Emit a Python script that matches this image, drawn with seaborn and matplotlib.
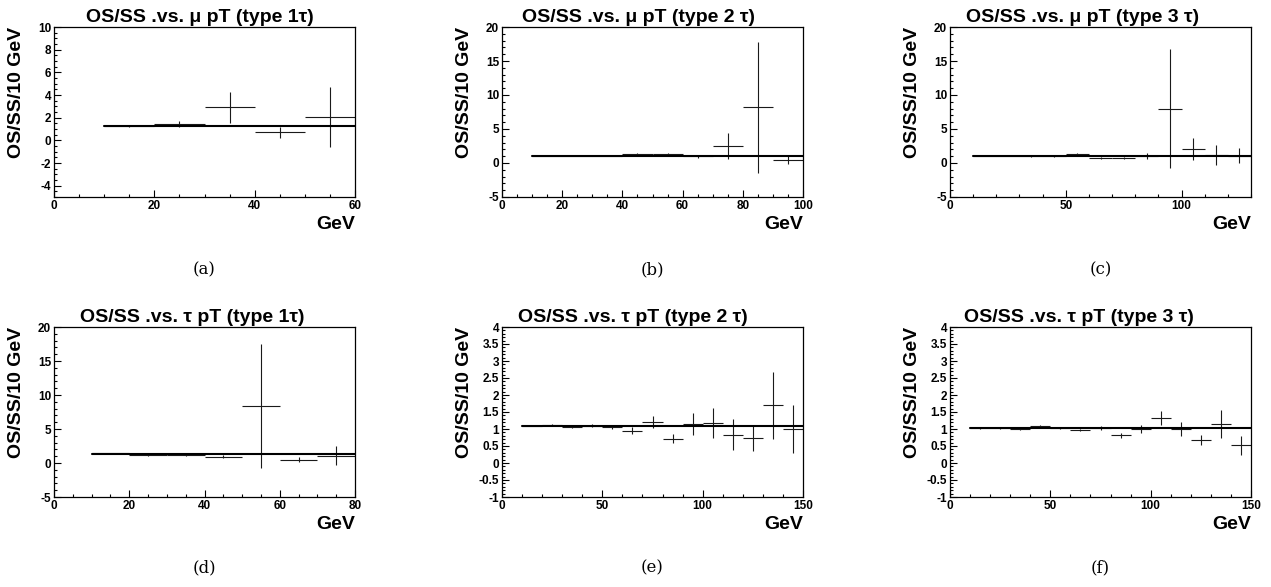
import numpy as np
import pandas as pd
import matplotlib
matplotlib.use("Agg")
import matplotlib.pyplot as plt
import seaborn as sns
from matplotlib.ticker import MultipleLocator, FuncFormatter

# --- data: OS/SS ratio per 10 GeV bin, bin centres, errors, flat fit value ---
BIN_HALF = 5.0

a_x   = [15, 25, 35, 45, 55]
a_y   = [1.25, 1.45, 2.9, 0.7, 2.05]
a_err = [0.05, 0.25, 1.4, 0.5, 2.65]
a_fit = 1.25

b_x   = [15, 25, 35, 45, 55, 65, 75, 85, 95]
b_y   = [1.1, 1.1, 1.1, 1.35, 1.25, 1.0, 2.5, 8.2, 0.4]
b_err = [0.05, 0.08, 0.1, 0.15, 0.2, 0.2, 1.9, 9.6, 0.6]
b_fit = 1.1

c_x   = [15, 25, 35, 45, 55, 65, 75, 85, 95, 105, 115, 125]
c_y   = [1.05, 1.05, 1.0, 1.0, 1.3, 0.75, 0.8, 1.0, 8.0, 2.05, 1.15, 1.05]
c_err = [0.03, 0.04, 0.06, 0.08, 0.15, 0.1, 0.15, 0.4, 8.7, 1.6, 1.5, 1.1]
c_fit = 1.05

d_x   = [15, 25, 35, 45, 55, 65, 75]
d_y   = [1.4, 1.2, 1.2, 0.95, 8.4, 0.5, 1.1]
d_err = [0.1, 0.1, 0.2, 0.25, 9.1, 0.35, 1.4]
d_fit = 1.3

e_x   = [15, 25, 35, 45, 55, 65, 75, 85, 95, 105, 115, 125, 135, 145]
e_y   = [1.1, 1.13, 1.06, 1.1, 1.06, 0.95, 1.2, 0.72, 1.15, 1.18, 0.83, 0.73, 1.7, 1.0]
e_err = [0.02, 0.03, 0.03, 0.04, 0.06, 0.1, 0.18, 0.13, 0.33, 0.43, 0.45, 0.38, 0.98, 0.72]
e_fit = 1.1

f_x   = [15, 25, 35, 45, 55, 65, 75, 85, 95, 105, 115, 125, 135, 145]
f_y   = [1.02, 1.03, 1.0, 1.1, 1.02, 0.98, 1.02, 0.82, 1.0, 1.32, 1.0, 0.68, 1.15, 0.52]
f_err = [0.01, 0.02, 0.02, 0.03, 0.03, 0.03, 0.06, 0.07, 0.12, 0.2, 0.2, 0.15, 0.42, 0.27]
f_fit = 1.02

titles = [
    "OS/SS .vs. \u03bc pT (type 1\u03c4)",
    "OS/SS .vs. \u03bc pT (type 2 \u03c4)",
    "OS/SS .vs. \u03bc pT (type 3 \u03c4)",
    "OS/SS .vs. \u03c4 pT (type 1\u03c4)",
    "OS/SS .vs. \u03c4 pT (type 2 \u03c4)",
    "OS/SS .vs. \u03c4 pT (type 3 \u03c4)",
]
captions = ["(a)", "(b)", "(c)", "(d)", "(e)", "(f)"]

# axis ranges / tick spacing (x_max, y_min, y_max, x_major, x_minor, y_major, y_minor)
ranges = [
    (60, -5, 10, 20, 5, 2, 0.5),
    (100, -5, 20, 20, 5, 5, 1),
    (130, -5, 20, 50, 10, 5, 1),
    (80, -5, 20, 20, 5, 5, 1),
    (150, -1, 4, 50, 10, 0.5, 0.1),
    (150, -1, 4, 50, 10, 0.5, 0.1),
]
panels = [(a_x, a_y, a_err, a_fit), (b_x, b_y, b_err, b_fit), (c_x, c_y, c_err, c_fit),
          (d_x, d_y, d_err, d_fit), (e_x, e_y, e_err, e_fit), (f_x, f_y, f_err, f_fit)]

# --- style ---
sns.set_style("ticks")
plt.rcParams["font.family"] = ["Liberation Sans", "DejaVu Sans"]
plt.rcParams.update({
    "font.weight": "bold",
    "axes.linewidth": 0.9,
    "axes.edgecolor": "black",
    "text.color": "black",
    "axes.labelcolor": "black",
    "xtick.color": "black",
    "ytick.color": "black",
})

W, H = 1271, 587
fig = plt.figure(figsize=(W / 100, H / 100), dpi=100)

lefts = [54, 502, 950]
tops = [27, 327]
ax_w, ax_h = 301, 170
title_pos = [0.485, 0.455, 0.44, 0.46, 0.435, 0.43]

fmt = FuncFormatter(lambda v, p: f"{v:g}")

for i, (xs, ys, errs, fit) in enumerate(panels):
    row, col = divmod(i, 3)
    l = lefts[col]
    t = tops[row]
    ax = fig.add_axes([l / W, 1 - (t + ax_h) / H, ax_w / W, ax_h / H])
    xmax, ymin, ymax, xmaj, xmin_, ymaj, ymin_ = ranges[i]

    df = pd.DataFrame({"pt": xs, "ratio": ys, "err": errs})
    ax.errorbar(df["pt"], df["ratio"], xerr=BIN_HALF, yerr=df["err"], fmt="none",
                ecolor="#1a1a1a", elinewidth=0.8, capsize=0)
    fit_df = pd.DataFrame({"pt": [xs[0] - BIN_HALF, xs[-1] + BIN_HALF], "fit": [fit, fit]})
    sns.lineplot(data=fit_df, x="pt", y="fit", ax=ax, color="black", linewidth=1.5)

    ax.set_xlim(0, xmax)
    ax.set_ylim(ymin, ymax)
    ax.xaxis.set_major_locator(MultipleLocator(xmaj))
    ax.xaxis.set_minor_locator(MultipleLocator(xmin_))
    ax.yaxis.set_major_locator(MultipleLocator(ymaj))
    ax.yaxis.set_minor_locator(MultipleLocator(ymin_))
    ax.xaxis.set_major_formatter(fmt)
    ax.yaxis.set_major_formatter(fmt)
    ax.tick_params(which="both", direction="in", top=False, right=False,
                   labelsize=8.5, pad=2, width=0.8)
    ax.tick_params(which="major", length=5)
    ax.tick_params(which="minor", length=2.5)
    for lab in ax.get_xticklabels() + ax.get_yticklabels():
        lab.set_fontweight("bold")
    for sp in ax.spines.values():
        sp.set_visible(True)

    ax.set_ylabel("OS/SS/10 GeV", fontsize=14, fontweight="bold", loc="top")
    ax.yaxis.set_label_coords(-0.095, 1.0)
    ax.set_xlabel("GeV", fontsize=14, fontweight="bold", loc="right")
    ax.xaxis.set_label_coords(1.0, -0.11)
    ax.xaxis.label.set_verticalalignment("top")

    ax.text(title_pos[i], 1.005, titles[i], transform=ax.transAxes, ha="center",
            va="bottom", fontsize=14, fontweight="bold")

    cap_y = 270 if row == 0 else 568
    fig.text((l + ax_w / 2) / W, 1 - cap_y / H, captions[i], ha="center", va="center",
             fontsize=12, fontweight="normal", family=["DejaVu Serif"])

fig.savefig("out.png", dpi=100)
